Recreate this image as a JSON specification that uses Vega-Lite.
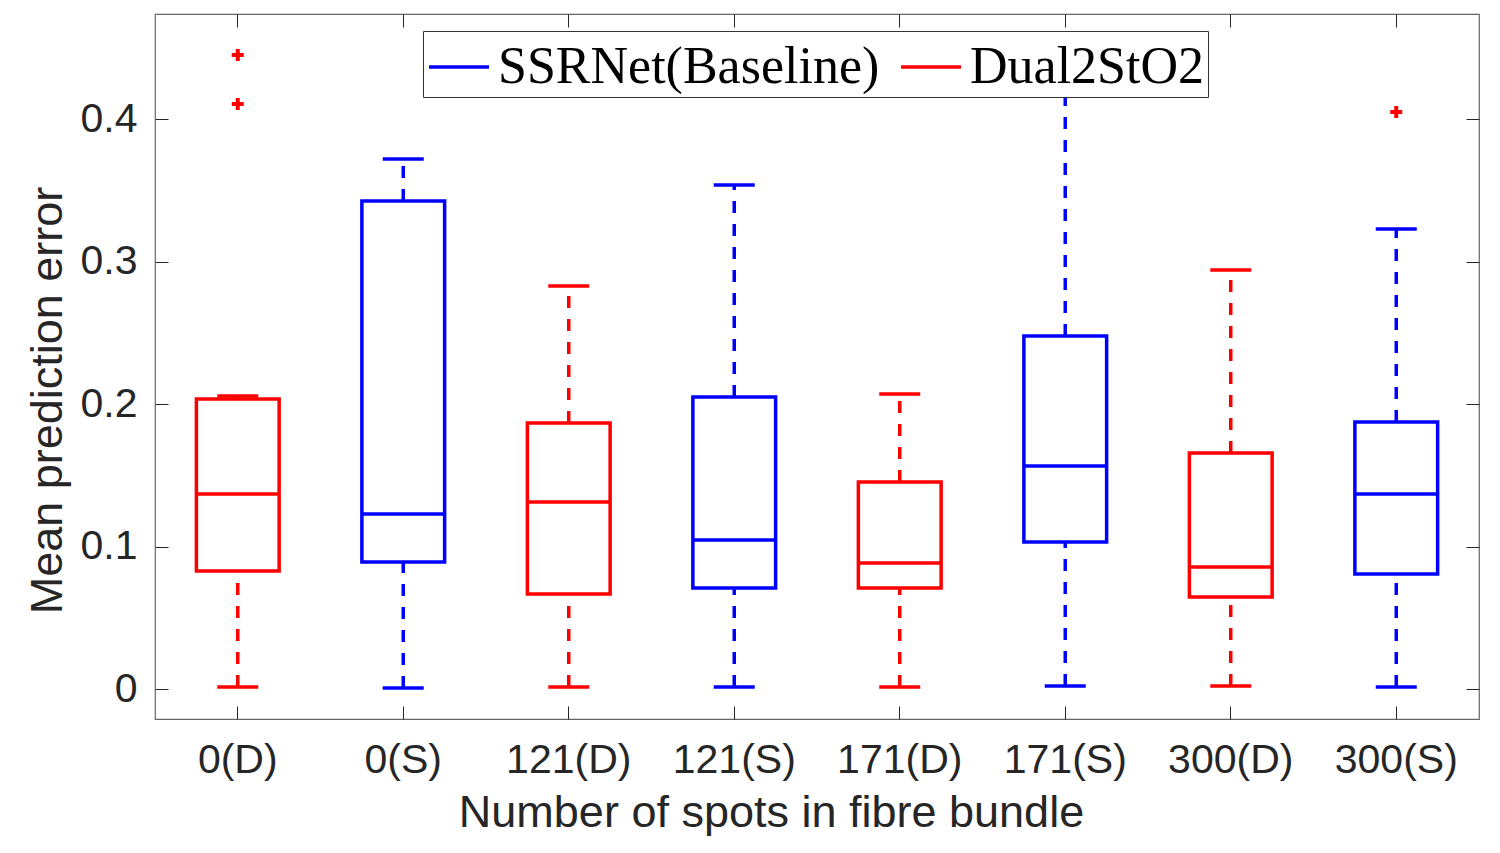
{
  "$schema": "https://vega.github.io/schema/vega-lite/v6.json",
  "width": 1324,
  "height": 705,
  "autosize": {"type": "none"},
  "padding": {"left": 155, "top": 14, "right": 21, "bottom": 134},
  "background": "white",
  "config": {
    "view": {"stroke": "#666666", "strokeWidth": 1.2},
    "axis": {
      "labelFont": "Liberation Sans", "labelFontSize": 41, "labelColor": "#262626",
      "titleFont": "Liberation Sans", "titleFontSize": 45, "titleColor": "#262626", "titleFontWeight": "normal",
      "tickColor": "#262626", "domain": false, "grid": false
    }
  },
  "datasets": {
    "boxes": [
      {"cat": "0(D)", "group": "Dual2StO2", "lower": 0.0014, "q1": 0.0828, "median": 0.1368, "q3": 0.2035, "upper": 0.2056},
      {"cat": "0(S)", "group": "SSRNet(Baseline)", "lower": 0.0007, "q1": 0.0891, "median": 0.1228, "q3": 0.3425, "upper": 0.372},
      {"cat": "121(D)", "group": "Dual2StO2", "lower": 0.0014, "q1": 0.0667, "median": 0.1312, "q3": 0.1867, "upper": 0.2828},
      {"cat": "121(S)", "group": "SSRNet(Baseline)", "lower": 0.0014, "q1": 0.0709, "median": 0.1046, "q3": 0.2049, "upper": 0.3537},
      {"cat": "171(D)", "group": "Dual2StO2", "lower": 0.0014, "q1": 0.0709, "median": 0.0884, "q3": 0.1453, "upper": 0.207},
      {"cat": "171(S)", "group": "SSRNet(Baseline)", "lower": 0.0021, "q1": 0.1032, "median": 0.1565, "q3": 0.2477, "upper": 0.445},
      {"cat": "300(D)", "group": "Dual2StO2", "lower": 0.0021, "q1": 0.0646, "median": 0.0856, "q3": 0.1656, "upper": 0.294},
      {"cat": "300(S)", "group": "SSRNet(Baseline)", "lower": 0.0014, "q1": 0.0807, "median": 0.1368, "q3": 0.1874, "upper": 0.3228}
    ],
    "outliers": [
      {"cat": "0(D)", "value": 0.445},
      {"cat": "0(D)", "value": 0.4105},
      {"cat": "300(S)", "value": 0.405}
    ]
  },
  "layer": [
    {
      "data": {"name": "boxes"},
      "mark": {"type": "rule", "strokeWidth": 3.5, "strokeDash": [12, 11], "opacity": 1},
      "encoding": {
        "x": {"field": "cat", "type": "nominal", "sort": null,
              "scale": {"domain": ["0(D)", "0(S)", "121(D)", "121(S)", "171(D)", "171(S)", "300(D)", "300(S)"], "paddingInner": 0, "paddingOuter": 0},
              "axis": {"orient": "bottom", "title": "Number of spots in fibre bundle", "labelAngle": 0, "tickSize": -13, "labelPadding": 34, "titlePadding": 10, "titleX": 616, "titleAnchor": "middle"}},
        "y": {"field": "lower", "type": "quantitative",
              "scale": {"domain": [-0.021, 0.4737], "nice": false, "zero": false},
              "axis": {"orient": "left", "title": "Mean prediction error", "values": [0, 0.1, 0.2, 0.3, 0.4], "format": ".1~f", "tickSize": -13, "labelPadding": 31, "titlePadding": 10, "titleY": 386, "titleAnchor": "middle"}},
        "y2": {"field": "q1"},
        "color": {"field": "group", "type": "nominal",
                  "scale": {"domain": ["SSRNet(Baseline)", "Dual2StO2"], "range": ["#0000ff", "#ff0000"]},
                  "legend": {"orient": "none", "legendX": 268, "legendY": 17, "direction": "horizontal", "title": null,
                             "symbolType": "stroke", "symbolSize": 3600, "symbolStrokeWidth": 3.5,
                             "labelFont": "Liberation Serif", "labelFontSize": 52, "labelColor": "#000000", "labelLimit": 0,
                             "labelOffset": 7, "columnPadding": 14, "padding": 4,
                             "strokeColor": "#333333", "fillColor": "white", "cornerRadius": 0}}
      }
    },
    {
      "data": {"name": "boxes"},
      "mark": {"type": "rule", "strokeWidth": 3.5, "strokeDash": [12, 11], "opacity": 1},
      "encoding": {
        "x": {"field": "cat", "type": "nominal", "sort": null,
              "axis": {"orient": "top", "title": null, "labels": false, "tickSize": -13}},
        "y": {"field": "q3", "type": "quantitative",
              "axis": {"orient": "right", "title": null, "labels": false, "values": [0, 0.1, 0.2, 0.3, 0.4], "tickSize": -13}},
        "y2": {"field": "upper"},
        "color": {"field": "group", "type": "nominal", "legend": null}
      }
    },
    {
      "data": {"name": "boxes"},
      "mark": {"type": "tick", "size": 41, "thickness": 3.5, "orient": "horizontal", "opacity": 1},
      "encoding": {
        "x": {"field": "cat", "type": "nominal", "sort": null, "axis": null},
        "y": {"field": "lower", "type": "quantitative", "axis": null},
        "color": {"field": "group", "type": "nominal", "legend": null}
      }
    },
    {
      "data": {"name": "boxes"},
      "mark": {"type": "tick", "size": 41, "thickness": 3.5, "orient": "horizontal", "opacity": 1},
      "encoding": {
        "x": {"field": "cat", "type": "nominal", "sort": null, "axis": null},
        "y": {"field": "upper", "type": "quantitative", "axis": null},
        "color": {"field": "group", "type": "nominal", "legend": null}
      }
    },
    {
      "data": {"name": "boxes"},
      "mark": {"type": "bar", "filled": false, "strokeWidth": 3.5, "width": {"band": 0.5}, "opacity": 1},
      "encoding": {
        "x": {"field": "cat", "type": "nominal", "sort": null, "axis": null},
        "y": {"field": "q1", "type": "quantitative", "axis": null},
        "y2": {"field": "q3"},
        "color": {"field": "group", "type": "nominal", "legend": null}
      }
    },
    {
      "data": {"name": "boxes"},
      "mark": {"type": "tick", "size": 82, "thickness": 3.5, "orient": "horizontal", "opacity": 1},
      "encoding": {
        "x": {"field": "cat", "type": "nominal", "sort": null, "axis": null},
        "y": {"field": "median", "type": "quantitative", "axis": null},
        "color": {"field": "group", "type": "nominal", "legend": null}
      }
    },
    {
      "data": {"name": "outliers"},
      "mark": {"type": "point", "shape": "M-1,0H1M0,-1V1", "filled": false, "size": 144, "strokeWidth": 4, "color": "#ff0000", "opacity": 1},
      "encoding": {
        "x": {"field": "cat", "type": "nominal", "sort": null, "axis": null},
        "y": {"field": "value", "type": "quantitative", "axis": null}
      }
    }
  ],
  "resolve": {"axis": {"x": "independent", "y": "independent"}}
}
